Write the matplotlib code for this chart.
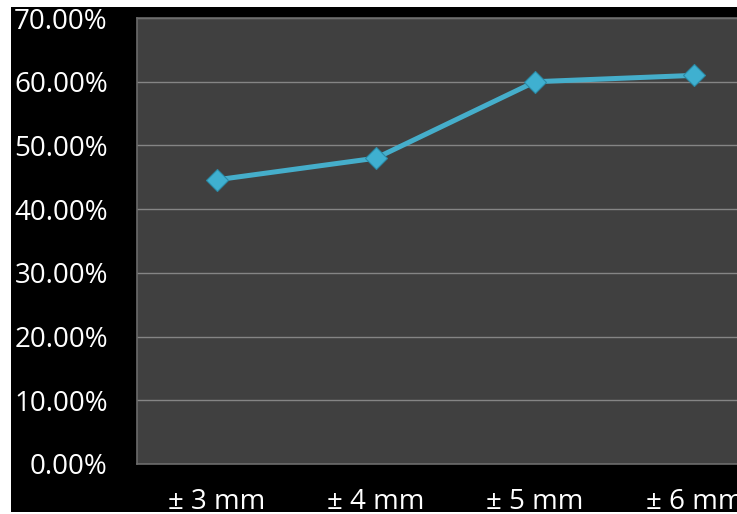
import matplotlib

matplotlib.use("Agg")
import matplotlib.pyplot as plt
from matplotlib.patches import Rectangle
from matplotlib.ticker import FuncFormatter

categories = ["± 3 mm", "± 4 mm", "± 5 mm", "± 6 mm"]
success_rate = [44.6, 48.0, 60.0, 61.0]
y_ticks = [0, 10, 20, 30, 40, 50, 60, 70]

W, H = 737, 514
fig = plt.figure(figsize=(W / 100, H / 100), dpi=100, facecolor="white")

# black slide background with thin white margins (top, left, bottom)
fig.patches.append(Rectangle((11 / W, 2 / H), 1, (H - 9) / H,
                             transform=fig.transFigure, facecolor="black",
                             edgecolor="none", zorder=-10))

# plot area runs past the right edge of the figure
left, right = 137 / W, 774 / W
bottom, top = (H - 464) / H, (H - 18) / H
ax = fig.add_axes([left, bottom, right - left, top - bottom])
ax.set_facecolor("#404040")
for sp in ax.spines.values():
    sp.set_color("#6a6a6a")
    sp.set_linewidth(1.2)

x = range(len(categories))
ax.plot(x, success_rate, color="#45aecb", linewidth=3.6,
        marker="D", markersize=11, markerfacecolor="#3fb0d0",
        markeredgecolor="#2b8aa6", markeredgewidth=0.8, zorder=3)

ax.set_xlim(-0.5, len(categories) - 0.5)
ax.set_ylim(0, 70)
ax.set_yticks(y_ticks)
ax.yaxis.set_major_formatter(FuncFormatter(lambda v, _: f"{v:.2f}%"))
ax.set_xticks(list(x))
ax.set_xticklabels(categories)
ax.grid(axis="y", color="#858585", linewidth=1.0)
ax.set_axisbelow(True)
ax.tick_params(axis="both", length=0, colors="white", labelsize=20)
ax.tick_params(axis="y", pad=21)
ax.tick_params(axis="x", pad=17)
for lab in ax.get_xticklabels() + ax.get_yticklabels():
    lab.set_fontfamily("Open Sans")

# white strips at the very top and bottom clip the outer labels
fig.patches.append(Rectangle((0, 0), 1, 2 / H, transform=fig.transFigure,
                             facecolor="white", edgecolor="none", zorder=10))
fig.patches.append(Rectangle((0, (H - 7) / H), 1, 7 / H, transform=fig.transFigure,
                             facecolor="white", edgecolor="none", zorder=10))

fig.savefig("out.png", dpi=100, facecolor="white")
